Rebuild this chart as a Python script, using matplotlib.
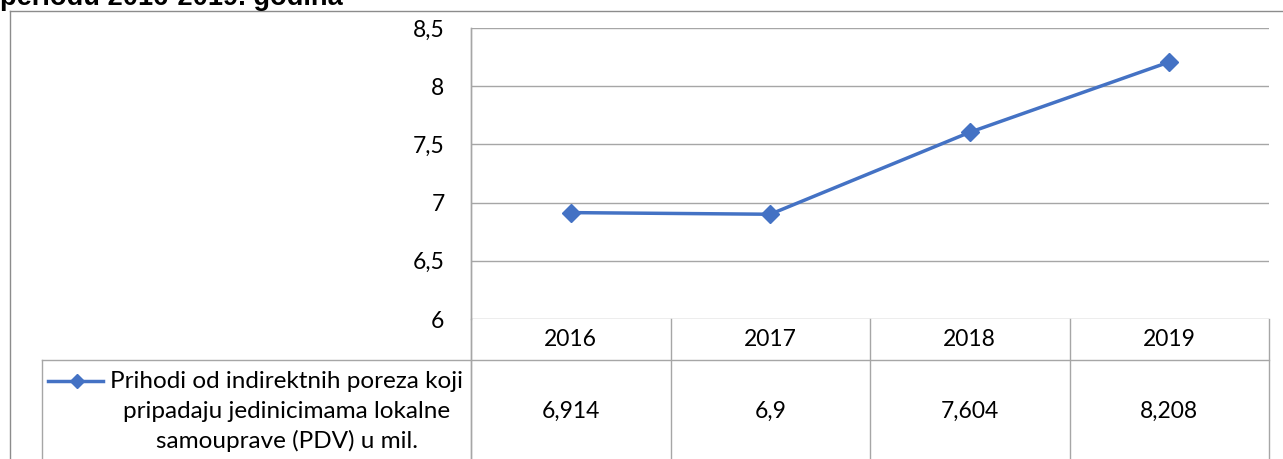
import numpy as np
import matplotlib.pyplot as plt
from matplotlib.lines import Line2D
from matplotlib.transforms import blended_transform_factory

years = ['2016', '2017', '2018', '2019']
values = [6.914, 6.9, 7.604, 8.208]
value_labels = ['6,914', '6,9', '7,604', '8,208']
yticks = [6, 6.5, 7, 7.5, 8, 8.5]
ytick_labels = ['6', '6,5', '7', '7,5', '8', '8,5']
series_name = ['Prihodi od indirektnih poreza koji',
               'pripadaju jedinicimama lokalne',
               'samouprave (PDV) u mil.']
title = 'periodu 2016-2019. godina'

W, H = 1283, 459
LINE = '#4472C4'
GRID = '#A6A6A6'
BORDER = '#8C8C8C'
FS = 16.5

plt.rcParams['font.family'] = ['Lato', 'DejaVu Sans']

fig = plt.figure(figsize=(W / 100, H / 100), dpi=100)


def fx(px):
    return px / W


def fy(py):
    return 1 - py / H


# plot area in pixel coordinates of the reference
left, right, top, bottom = 471, 1269, 28, 319
ax = fig.add_axes([fx(left), fy(bottom), fx(right) - fx(left), fy(top) - fy(bottom)])

x = np.arange(len(years))
ax.plot(x, values, color=LINE, lw=2.5, marker='D', ms=9, zorder=3, clip_on=False)
ax.set_xlim(-0.5, len(years) - 0.5)
ax.set_ylim(yticks[0], yticks[-1])
ax.set_yticks(yticks)
ax.set_yticklabels(ytick_labels, fontsize=FS)
ax.tick_params(axis='y', length=0, pad=19)
ax.set_xticks([])
for y in yticks:
    ax.axhline(y, color=GRID, lw=1.0, zorder=1)
for s in ['top', 'right', 'bottom']:
    ax.spines[s].set_visible(False)
ax.spines['left'].set_color(GRID)
ax.spines['left'].set_linewidth(1.0)
ax.spines['left'].set_bounds(yticks[0], yticks[-1])

# data table below the plot
tr = blended_transform_factory(ax.transData, fig.transFigure)
trf = fig.transFigure
row1_bot = fy(360)
fig_bot = 0.0
edges = np.arange(len(years) + 1) - 0.5
for e in edges:
    ax.add_line(Line2D([e, e], [fy(bottom), fig_bot], transform=tr, color=GRID,
                       lw=1.0, clip_on=False))
ax.add_line(Line2D([fx(42), fx(right)], [row1_bot, row1_bot], transform=trf,
                   color=GRID, lw=1.0, clip_on=False))
ax.add_line(Line2D([fx(42), fx(42)], [row1_bot, fig_bot], transform=trf,
                   color=GRID, lw=1.0, clip_on=False))
ax.add_line(Line2D([fx(left), fx(left)], [fy(top), fig_bot], transform=trf,
                   color=GRID, lw=1.0, clip_on=False))

for xi, yr, lab in zip(x, years, value_labels):
    ax.text(xi, fy(340), yr, transform=tr, ha='center', va='center', fontsize=FS)
    ax.text(xi, fy(411), lab, transform=tr, ha='center', va='center', fontsize=FS)

# legend key and series name
ax.add_line(Line2D([fx(48), fx(103)], [fy(381), fy(381)], transform=trf, color=LINE,
                   lw=2.5, clip_on=False))
ax.add_line(Line2D([fx(77)], [fy(381)], transform=trf, color=LINE, marker='D', ms=7,
                   clip_on=False))
for i, line in enumerate(series_name):
    fig.text(fx(287), fy(381 + 30 * i), line, ha='center', va='center', fontsize=17.5)

# outer chart border
fig.add_artist(Line2D([fx(10), 1.0], [fy(11), fy(11)], color=BORDER, lw=1.0))
fig.add_artist(Line2D([fx(10), fx(10)], [fy(11), 0.0], color=BORDER, lw=1.0))

# title, cut at top
fig.text(fx(0), fy(5), title, ha='left', va='baseline', fontsize=19.6,
         fontweight='bold', family='Liberation Sans')

fig.savefig('out.png', dpi=100)
